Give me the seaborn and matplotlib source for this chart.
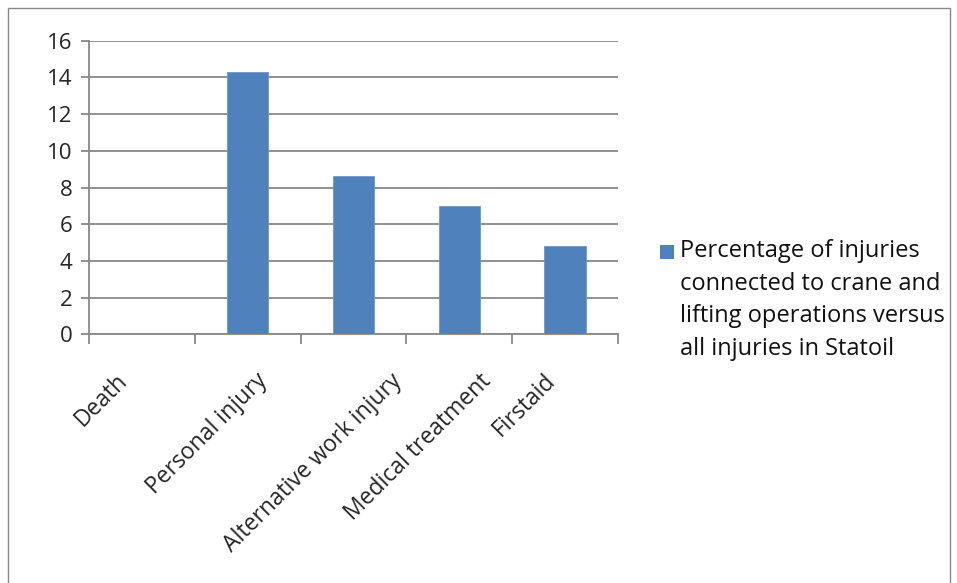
import matplotlib
matplotlib.use("Agg")
import matplotlib.pyplot as plt
import matplotlib.transforms as mtransforms
import seaborn as sns
import pandas as pd
from matplotlib.patches import Rectangle

categories = ["Death", "Personal injury", "Alternative work injury", "Medical treatment", "Firstaid"]
values = [0.0, 14.3, 8.6, 7.0, 4.8]
series_name = "Percentage of injuries\nconnected to crane and\nlifting operations versus\nall injuries in Statoil"
yticks = [0, 2, 4, 6, 8, 10, 12, 14, 16]

df = pd.DataFrame({"category": categories, "value": values})

sns.set_style("white")
plt.rcParams['font.family'] = ['Open Sans', 'DejaVu Sans']

W, H = 957, 583
fig = plt.figure(figsize=(W / 100, H / 100), dpi=100)
ax = fig.add_axes([89 / W, 1 - 334.3 / H, (618 - 89) / W, (334.3 - 40.7) / H])

color = "#4F81BD"
sns.barplot(data=df, x="category", y="value", color=color, width=0.39,
            saturation=1, ax=ax, zorder=3, edgecolor="#6E97CC", linewidth=0.6)

ax.set_xlim(-0.5, len(categories) - 0.5)
ax.set_ylim(0, 16)
ax.set_yticks(yticks)
ax.set_yticklabels([str(t) for t in yticks], fontsize=16)
ax.yaxis.grid(True, color="#888888", linewidth=1.3, zorder=0)
ax.set_xlabel("")
ax.set_ylabel("")

for s in ["top", "right"]:
    ax.spines[s].set_visible(False)
for s in ["left", "bottom"]:
    ax.spines[s].set_color("#888888")
    ax.spines[s].set_linewidth(1.3)

ax.tick_params(axis="y", length=6, width=1.3, color="#888888", pad=6, left=True)
ax.set_xticks([i - 0.5 for i in range(len(categories) + 1)], minor=True)
ax.tick_params(axis="x", which="minor", length=7, width=1.3, color="#888888", bottom=True)
ax.tick_params(axis="x", which="major", length=0, pad=10)
ax.set_xticks(range(len(categories)))
ax.set_xticklabels(categories, rotation=45, ha="center", va="top",
                   rotation_mode="default", fontsize=16.5)
offset = mtransforms.ScaledTranslation(-0.41, -0.21, fig.dpi_scale_trans)
for lab in ax.get_xticklabels():
    lab.set_transform(lab.get_transform() + offset)

# legend (key square + multi-line label)
fig.patches.append(Rectangle((660 / W, 1 - 259 / H), 14 / W, 14 / H,
                             transform=fig.transFigure, facecolor=color,
                             edgecolor="none"))
fig.text(680 / W, 1 - 239 / H, series_name, ha="left", va="top",
         fontsize=17, linespacing=1.48, color="#111111")

# outer chart border
fig.patches.append(Rectangle((8 / W, -0.01), (950 - 8) / W, 1 - 8 / H + 0.01,
                             transform=fig.transFigure, fill=False,
                             edgecolor="#888888", linewidth=1.0))

fig.savefig("out.png", dpi=100, facecolor="white")
